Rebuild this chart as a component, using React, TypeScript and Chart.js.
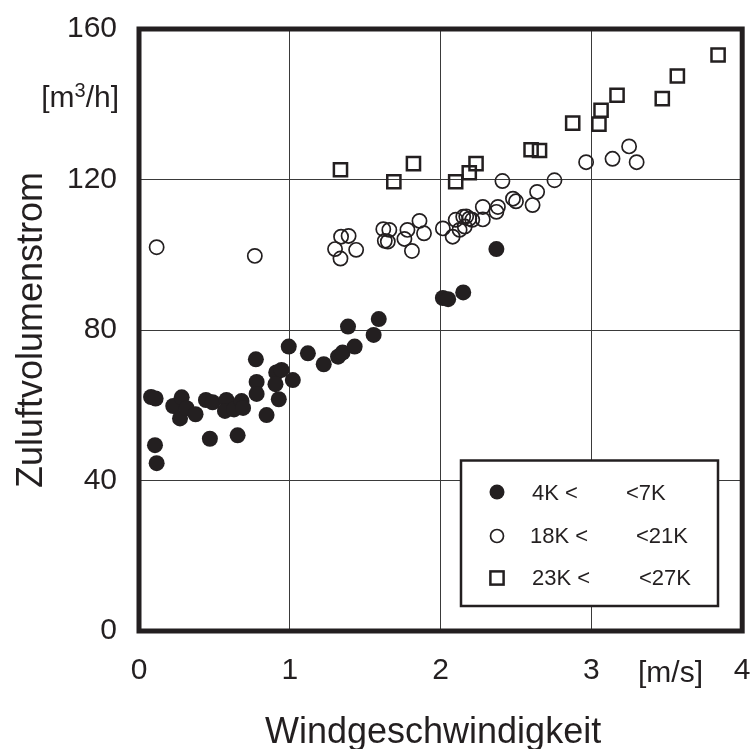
import React, { useEffect, useRef } from 'react';
import { Chart, registerables } from 'chart.js';

Chart.register(...registerables);

const xTickValues = [0, 1, 2, 3, 4];
const yTickValues = [0, 40, 80, 120, 160];
const xUnit = '[m/s]';
const yUnitParts = ['[m', '3', '/h]'];
const xTitle = 'Windgeschwindigkeit';
const yTitle = 'Zuluftvolumenstrom';
const legendLeft = ['4K <', '18K <', '23K <'];
const legendRight = ['<7K', '<21K', '<27K'];

const lowX = [0.08, 0.11, 0.106, 0.117, 0.227, 0.283, 0.272, 0.316, 0.375, 0.444, 0.488, 0.47, 0.58, 0.57, 0.63, 0.68, 0.69, 0.654, 0.775, 0.78, 0.78, 0.846, 0.91, 0.945, 0.905, 0.927, 0.993, 1.02, 1.12, 1.225, 1.32, 1.35, 1.386, 1.43, 1.556, 1.59, 2.015, 2.05, 2.15, 2.37];
const lowY = [62.2, 61.8, 49.4, 44.6, 59.8, 62.1, 56.5, 59.2, 57.6, 61.4, 60.8, 51.1, 61.4, 58.5, 58.9, 61.1, 59.3, 52.0, 72.2, 66.2, 63.0, 57.4, 68.7, 69.4, 65.6, 61.6, 75.6, 66.7, 73.8, 70.9, 72.9, 74.0, 80.9, 75.6, 78.7, 82.9, 88.5, 88.2, 90.0, 101.5];

const midX = [0.117, 0.768, 1.3, 1.34, 1.39, 1.336, 1.44, 1.62, 1.66, 1.63, 1.65, 1.76, 1.78, 1.86, 1.89, 1.81, 2.015, 2.08, 2.1, 2.126, 2.15, 2.17, 2.19, 2.21, 2.16, 2.28, 2.28, 2.37, 2.38, 2.41, 2.48, 2.5, 2.61, 2.64, 2.755, 2.965, 3.14, 3.25, 3.3];
const midY = [102.0, 99.7, 101.5, 104.8, 105.0, 99.0, 101.3, 106.8, 106.6, 103.7, 103.5, 104.2, 106.6, 109.0, 105.7, 101.0, 107.0, 104.8, 109.3, 106.6, 110.1, 110.2, 109.6, 109.3, 107.5, 112.7, 109.4, 111.4, 112.7, 119.6, 114.9, 114.2, 113.2, 116.7, 119.8, 124.6, 125.5, 128.8, 124.6];

const highX = [1.336, 1.69, 1.82, 2.1, 2.19, 2.235, 2.6, 2.656, 2.876, 3.05, 3.064, 3.17, 3.47, 3.57, 3.84];
const highY = [122.6, 119.4, 124.2, 119.4, 121.8, 124.2, 127.9, 127.7, 135.0, 134.7, 138.4, 142.4, 141.5, 147.5, 153.1];

const INK = '#231f20';
const FONT = '"Liberation Sans", Arial, Helvetica, sans-serif';

export default function App() {
  const ref = useRef<HTMLCanvasElement>(null);

  useEffect(() => {
    if (!ref.current) return;
    const toPts = (xs: number[], ys: number[]) => xs.map((x, i) => ({ x, y: ys[i] }));

    const decorPlugin = {
      id: 'decor',
      afterDraw(chart: any) {
        const ctx = chart.ctx as CanvasRenderingContext2D;
        const a = chart.chartArea;
        ctx.save();
        // frame
        ctx.strokeStyle = INK;
        ctx.lineWidth = 5;
        ctx.strokeRect(a.left, a.top, a.right - a.left, a.bottom - a.top);

        // legend box
        ctx.fillStyle = '#ffffff';
        ctx.fillRect(461, 460.5, 257, 145.5);
        ctx.lineWidth = 2.5;
        ctx.strokeRect(461, 460.5, 257, 145.5);

        const symX = 497;
        const rows = [492, 536, 578];
        ctx.fillStyle = INK;
        ctx.beginPath();
        ctx.arc(symX, rows[0], 7.5, 0, Math.PI * 2);
        ctx.fill();
        ctx.lineWidth = 1.7;
        ctx.beginPath();
        ctx.arc(symX, rows[1], 6.5, 0, Math.PI * 2);
        ctx.stroke();
        ctx.lineWidth = 2.5;
        ctx.strokeRect(symX - 6.6, rows[2] - 6.6, 13.2, 13.2);

        ctx.fillStyle = INK;
        ctx.textBaseline = 'alphabetic';
        ctx.textAlign = 'left';
        ctx.font = `22px ${FONT}`;
        const baselines = [500, 543, 585];
        const leftXs = [532, 530, 532];
        const rightXs = [626, 636, 639];
        for (let i = 0; i < 3; i++) {
          ctx.fillText(legendLeft[i], leftXs[i], baselines[i]);
          ctx.fillText(legendRight[i], rightXs[i], baselines[i]);
        }

        // unit labels
        ctx.font = `30px ${FONT}`;
        ctx.fillText(xUnit, 638, 682);

        const big = `30px ${FONT}`;
        const small = `20px ${FONT}`;
        ctx.font = big;
        const w1 = ctx.measureText(yUnitParts[0]).width;
        const w3 = ctx.measureText(yUnitParts[2]).width;
        ctx.font = small;
        const w2 = ctx.measureText(yUnitParts[1]).width;
        const right = 119;
        const x0 = right - (w1 + w2 + w3);
        ctx.font = big;
        ctx.fillText(yUnitParts[0], x0, 107);
        ctx.font = small;
        ctx.fillText(yUnitParts[1], x0 + w1, 97);
        ctx.font = big;
        ctx.fillText(yUnitParts[2], x0 + w1 + w2, 107);

        // axis titles
        ctx.font = `36px ${FONT}`;
        ctx.textAlign = 'left';
        ctx.fillText(xTitle, 265, 743);
        ctx.save();
        ctx.translate(42, 330);
        ctx.rotate(-Math.PI / 2);
        ctx.textAlign = 'center';
        ctx.fillText(yTitle, 0, 0);
        ctx.restore();

        ctx.restore();
      },
    };

    const gridColor = (max: number) => (c: any) =>
      c.tick && (c.tick.value === 0 || c.tick.value === max) ? 'rgba(0,0,0,0)' : '#3a3a3a';

    const chart = new Chart(ref.current, {
      type: 'scatter',
      data: {
        datasets: [
          {
            label: legendLeft[0] + ' ' + legendRight[0],
            data: toPts(lowX, lowY),
            pointStyle: 'circle',
            pointRadius: 8,
            backgroundColor: INK,
            borderColor: INK,
            borderWidth: 0,
          },
          {
            label: legendLeft[1] + ' ' + legendRight[1],
            data: toPts(midX, midY),
            pointStyle: 'circle',
            pointRadius: 7.1,
            backgroundColor: 'rgba(255,255,255,0)',
            borderColor: INK,
            borderWidth: 1.7,
          },
          {
            label: legendLeft[2] + ' ' + legendRight[2],
            data: toPts(highX, highY),
            pointStyle: 'rect',
            pointRadius: 9.3,
            backgroundColor: 'rgba(255,255,255,0)',
            borderColor: INK,
            borderWidth: 2.5,
          },
        ],
      },
      options: {
        animation: false,
        responsive: false,
        maintainAspectRatio: false,
        events: [],
        layout: { padding: { top: 29, right: 11, left: 0, bottom: 0 } },
        plugins: {
          legend: { display: false },
          tooltip: { enabled: false },
          title: { display: false },
        },
        scales: {
          x: {
            type: 'linear',
            min: 0,
            max: 4,
            afterFit: (s: any) => {
              s.height = 118;
              s.paddingLeft = 0;
              s.paddingRight = 0;
            },
            afterBuildTicks: (s: any) => {
              s.ticks = xTickValues.map((v) => ({ value: v }));
            },
            ticks: {
              padding: 22,
              color: INK,
              font: { family: FONT, size: 30 },
              maxRotation: 0,
              autoSkip: false,
              callback: (v: any) => String(v),
            },
            grid: { color: gridColor(4), lineWidth: 1, drawTicks: false },
            border: { display: false },
          },
          y: {
            type: 'linear',
            min: 0,
            max: 160,
            afterFit: (s: any) => {
              s.width = 139;
              s.paddingTop = 0;
              s.paddingBottom = 0;
            },
            afterBuildTicks: (s: any) => {
              s.ticks = yTickValues.map((v) => ({ value: v }));
            },
            ticks: {
              padding: 22,
              color: INK,
              font: { family: FONT, size: 30 },
              autoSkip: false,
              callback: (v: any) => String(v),
            },
            grid: { color: gridColor(160), lineWidth: 1, drawTicks: false },
            border: { display: false },
          },
        },
      },
      plugins: [decorPlugin],
    });
    return () => chart.destroy();
  }, []);

  return (
    <div style={{ position: 'absolute', left: 0, top: 0, width: 754, height: 749, background: '#ffffff' }}>
      <canvas ref={ref} width={754} height={749} style={{ display: 'block', width: 754, height: 749 }} />
    </div>
  );
}
